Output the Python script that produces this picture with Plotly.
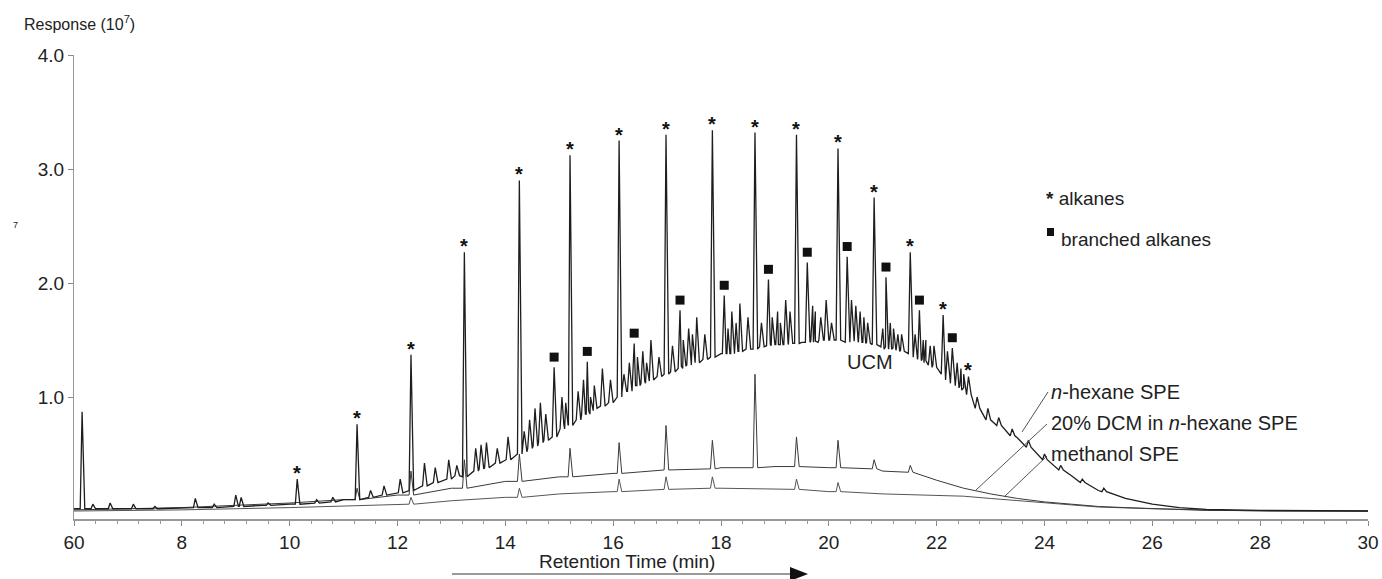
import plotly.graph_objects as go

# ---------------- data ----------------
x_tick_vals = [6, 8, 10, 12, 14, 16, 18, 20, 22, 24, 26, 28, 30]
x_tick_text = ["60", "8", "10", "12", "14", "16", "18", "20", "22", "24", "26", "28", "30"]
y_tick_vals = [1, 2, 3, 4]
y_tick_text = ["1.0", "2.0", "3.0", "4.0"]

# n-hexane SPE: UCM hump (lower envelope)
hex_base_t = [6.0, 6.5, 7.0, 7.5, 8.0, 8.5, 9.0, 9.5, 10.0, 10.5, 11.0, 11.5, 12.0, 12.5, 13.0,
              13.5, 14.0, 14.5, 15.0, 15.5, 16.0, 16.5, 17.0, 17.5, 18.0, 18.5, 19.0, 19.5, 20.0,
              20.5, 21.0, 21.5, 22.0, 22.5, 23.0, 23.5, 24.0, 24.5, 25.0, 25.5, 26.0, 26.5, 27.0,
              27.5, 28.0, 30.0]
hex_base_v = [0.02, 0.02, 0.02, 0.02, 0.03, 0.03, 0.04, 0.05, 0.06, 0.08, 0.1, 0.13, 0.17, 0.23, 0.29,
              0.36, 0.45, 0.58, 0.72, 0.88, 1.0, 1.13, 1.22, 1.32, 1.38, 1.43, 1.46, 1.48, 1.5,
              1.48, 1.42, 1.35, 1.22, 1.05, 0.8, 0.64, 0.46, 0.31, 0.18, 0.11, 0.06, 0.03, 0.015,
              0.01, 0.005, 0.0]

# n-alkane peaks (marked *)
alk_t = [10.14, 11.25, 12.25, 13.24, 14.26, 15.2, 16.11, 16.98, 17.84, 18.63, 19.4, 20.17, 20.84, 21.51, 22.12, 22.59]
alk_top = [0.28, 0.76, 1.37, 2.27, 2.9, 3.12, 3.25, 3.3, 3.34, 3.32, 3.3, 3.18, 2.75, 2.27, 1.72, 1.18]
alk_base = [0.06, 0.1, 0.18, 0.3, 0.5, 0.75, 1.0, 1.2, 1.35, 1.42, 1.47, 1.5, 1.46, 1.38, 1.2, 1.02]

# branched alkane peaks (marked with squares)
br_t = [14.905, 15.52, 16.39, 17.24, 18.06, 18.88, 19.6, 20.34, 21.06, 21.68, 22.29]
br_top = [1.26, 1.31, 1.47, 1.76, 1.89, 2.03, 2.18, 2.23, 2.05, 1.76, 1.43]
br_base = [0.65, 0.85, 1.1, 1.25, 1.38, 1.45, 1.48, 1.48, 1.42, 1.33, 1.12]

# other resolved peaks on the n-hexane trace
minor_t = [6.15, 6.35, 6.67, 7.1, 7.5, 8.25, 8.6, 9.0, 9.1, 9.6, 10.5, 10.8, 11.5, 11.75, 12.05,
           12.5, 12.7, 12.95, 13.45, 13.65, 13.85, 14.05, 14.45, 14.65, 15.05, 15.35, 15.65, 15.8,
           15.95, 16.3, 16.55, 16.7, 16.85, 17.1, 17.4, 17.55, 17.7, 18.2, 18.35, 18.5, 18.75,
           19.05, 19.2, 19.75, 19.95, 20.5, 20.65, 21.2, 21.35, 21.8, 21.95, 22.45, 22.75, 22.95,
           23.15, 23.4, 23.7, 24.0, 24.3, 24.7, 25.1]
minor_top = [0.87, 0.06, 0.07, 0.06, 0.04, 0.11, 0.06, 0.14, 0.12, 0.07, 0.1, 0.12, 0.18, 0.22, 0.28,
             0.42, 0.38, 0.45, 0.55, 0.6, 0.55, 0.65, 0.8, 0.95, 1.0, 1.05, 1.1, 1.25,
             1.15, 1.3, 1.4, 1.5, 1.35, 1.45, 1.6, 1.7, 1.55, 1.75, 1.82, 1.7, 1.65,
             1.75, 1.85, 1.75, 1.85, 1.8, 1.7, 1.6, 1.55, 1.5, 1.45, 1.25, 1.0, 0.9,
             0.82, 0.72, 0.62, 0.5, 0.4, 0.28, 0.2]
minor_base = [0.02, 0.02, 0.02, 0.02, 0.02, 0.03, 0.03, 0.04, 0.04, 0.05, 0.07, 0.08, 0.12, 0.14, 0.16,
              0.22, 0.25, 0.28, 0.35, 0.38, 0.42, 0.45, 0.55, 0.6, 0.72, 0.8, 0.9, 0.92,
              0.95, 1.05, 1.12, 1.15, 1.18, 1.22, 1.28, 1.3, 1.33, 1.38, 1.4, 1.42, 1.44,
              1.46, 1.46, 1.48, 1.5, 1.49, 1.48, 1.42, 1.4, 1.3, 1.26, 1.08, 0.9, 0.8,
              0.75, 0.66, 0.56, 0.45, 0.36, 0.25, 0.17]

# further small peaks inside the UCM band
band_t = [13.1, 13.55, 14.35, 14.55, 14.75, 15.12, 15.45, 15.58, 16.2, 16.45, 16.62, 17.3, 17.47,
          18.13, 18.28, 18.95, 19.1, 19.28, 19.7, 19.85, 20.05, 20.42, 20.58, 20.72, 21.0, 21.14,
          21.28, 21.6, 21.75, 21.88, 22.2, 22.38, 22.5]
band_top = [0.4, 0.58, 0.7, 0.9, 0.85, 0.95, 1.15, 1.0, 1.2, 1.35, 1.3, 1.5, 1.55,
            1.6, 1.65, 1.7, 1.65, 1.75, 1.8, 1.7, 1.65, 1.85, 1.75, 1.65, 1.6, 1.65,
            1.55, 1.55, 1.5, 1.45, 1.4, 1.3, 1.2]
band_base = [0.31, 0.37, 0.52, 0.57, 0.62, 0.76, 0.85, 0.88, 1.05, 1.1, 1.14, 1.27, 1.3,
             1.38, 1.4, 1.46, 1.46, 1.47, 1.49, 1.5, 1.5, 1.49, 1.48, 1.47, 1.44, 1.43,
             1.41, 1.35, 1.32, 1.28, 1.15, 1.1, 1.06]

# 20% DCM in n-hexane SPE
dcm_base_t = [6.0, 7.0, 8.0, 9.0, 10.0, 11.0, 12.0, 13.0, 14.0, 15.0, 16.0, 17.0, 18.0, 19.0, 20.0,
              21.0, 21.5, 22.0, 22.5, 23.0, 23.5, 24.0, 24.5, 25.0, 25.5, 26.0, 26.5, 27.0, 30.0]
dcm_base_v = [0.01, 0.02, 0.03, 0.05, 0.07, 0.1, 0.14, 0.2, 0.26, 0.3, 0.33, 0.36, 0.38, 0.39, 0.38,
              0.35, 0.32, 0.27, 0.2, 0.15, 0.11, 0.08, 0.06, 0.04, 0.03, 0.02, 0.01, 0.005, 0.0]
dcm_peak_t = [11.25, 12.25, 13.24, 14.26, 15.2, 16.11, 16.98, 17.84, 18.63, 19.4, 20.17, 20.84, 21.51]
dcm_peak_top = [0.2, 0.35, 0.45, 0.5, 0.55, 0.6, 0.75, 0.62, 1.2, 0.65, 0.62, 0.45, 0.4]
dcm_peak_base = [0.1, 0.14, 0.2, 0.26, 0.3, 0.33, 0.36, 0.37, 0.38, 0.39, 0.38, 0.37, 0.34]

# methanol SPE
meth_base_t = [6.0, 8.0, 10.0, 12.0, 13.0, 14.0, 15.0, 16.0, 17.0, 18.0, 19.0, 20.0, 21.0, 22.0,
               22.5, 23.0, 23.5, 24.0, 24.5, 25.0, 26.0, 27.0, 27.5, 28.0, 30.0]
meth_base_v = [0.0, 0.01, 0.03, 0.06, 0.09, 0.12, 0.15, 0.17, 0.19, 0.2, 0.19, 0.17, 0.15, 0.14,
               0.13, 0.11, 0.09, 0.07, 0.05, 0.035, 0.02, 0.01, 0.005, 0.0, 0.0]
meth_peak_t = [12.25, 14.26, 16.11, 16.98, 17.84, 19.4, 20.17]
meth_peak_top = [0.12, 0.2, 0.28, 0.3, 0.3, 0.28, 0.25]
meth_peak_base = [0.06, 0.12, 0.17, 0.19, 0.2, 0.19, 0.17]


# ---------------- build traces ----------------
def build(base_t, base_v, peak_t, peak_top, peak_base, wl=0.035, wr=0.05):
    pts = []
    windows = []
    for t, top, b in zip(peak_t, peak_top, peak_base):
        pts += [(t - wl, b), (t, top), (t + wr, b)]
        windows.append((t - wl - 0.02, t + wr + 0.02))
    for t, v in zip(base_t, base_v):
        if not any(a <= t <= c for a, c in windows):
            pts.append((t, v))
    pts.sort(key=lambda p: p[0])
    return [p[0] for p in pts], [p[1] for p in pts]


hx, hy = build(hex_base_t, hex_base_v, alk_t + br_t + minor_t + band_t,
               alk_top + br_top + minor_top + band_top, alk_base + br_base + minor_base + band_base)
dx, dy = build(dcm_base_t, dcm_base_v, dcm_peak_t, dcm_peak_top, dcm_peak_base)
mx, my = build(meth_base_t, meth_base_v, meth_peak_t, meth_peak_top, meth_peak_base)

fig = go.Figure()
fig.add_trace(go.Scatter(x=mx, y=my, mode="lines", line=dict(color="#555555", width=1),
                         name="methanol SPE", hoverinfo="skip"))
fig.add_trace(go.Scatter(x=dx, y=dy, mode="lines", line=dict(color="#3a3a3a", width=1),
                         name="20% DCM in n-hexane SPE", hoverinfo="skip"))
fig.add_trace(go.Scatter(x=hx, y=hy, mode="lines", line=dict(color="#1e1e1e", width=1.3),
                         name="n-hexane SPE", hoverinfo="skip"))

# branched alkane squares
fig.add_trace(go.Scatter(x=br_t, y=[v + 0.09 for v in br_top], mode="markers",
                         marker=dict(symbol="square", size=9, color="#111111"), hoverinfo="skip"))

FONT = "Liberation Sans, Arial, sans-serif"
annotations = []
for t, top in zip(alk_t, alk_top):
    annotations.append(dict(x=t, y=top, xref="x", yref="y", text="<b>*</b>", showarrow=False,
                            yanchor="bottom", yshift=-7, font=dict(size=20, color="#111", family=FONT)))

L, R, T, B = 74, 14, 55, 60
W, H = 1382, 579
PW, PH = W - L - R, H - T - B


def px(xp):
    return (xp - L) / PW


def py(yp):
    return (H - B - yp) / PH


def text(xp, yp, s, size=17, anchor="left", color="#222"):
    annotations.append(dict(x=px(xp), y=py(yp), xref="paper", yref="paper", text=s, showarrow=False,
                            xanchor=anchor, yanchor="middle", font=dict(size=size, color=color, family=FONT)))


text(22, 23, "Response (10<sup>7</sup>)", size=16, anchor="left")
text(11, 225, "7", size=9, anchor="left")
text(627, 561, "Retention Time (min)", size=19, anchor="center")
text(870, 362, "UCM", size=20, anchor="center")
text(1044, 198, "<b>*</b> alkanes", size=19)
text(1059, 239, "branched alkanes", size=19)
text(1049, 392, "<i>n</i>-hexane SPE", size=20)
text(1049, 423, "20% DCM in <i>n</i>-hexane SPE", size=20)
text(1049, 454, "methanol SPE", size=20)

shapes = [
    # legend square
    dict(type="rect", xref="paper", yref="paper", x0=px(1047), x1=px(1054), y0=py(236), y1=py(228),
         fillcolor="#111", line=dict(width=0)),
    # leader lines
    dict(type="line", xref="paper", yref="paper", x0=px(1048), y0=py(392), x1=px(1022), y1=py(432),
         line=dict(color="#555", width=1)),
    dict(type="line", xref="paper", yref="paper", x0=px(1047), y0=py(424), x1=px(976), y1=py(490),
         line=dict(color="#555", width=1)),
    dict(type="line", xref="paper", yref="paper", x0=px(1047), y0=py(456), x1=px(1004), y1=py(497),
         line=dict(color="#555", width=1)),
    # arrow
    dict(type="line", xref="paper", yref="paper", x0=px(452), y0=py(574), x1=px(792), y1=py(574),
         line=dict(color="#999", width=2)),
    dict(type="path", xref="paper", yref="paper",
         path=f"M {px(790)} {py(567)} L {px(808)} {py(574)} L {px(790)} {py(581)} Z",
         fillcolor="#111", line=dict(width=0)),
]

fig.update_layout(
    width=W, height=H, margin=dict(l=L, r=R, t=T, b=B, autoexpand=False),
    paper_bgcolor="white", plot_bgcolor="white", showlegend=False,
    annotations=annotations, shapes=shapes,
    font=dict(family=FONT, size=19, color="#222"),
    xaxis=dict(range=[6, 30], tickvals=x_tick_vals, ticktext=x_tick_text, showgrid=False, zeroline=False,
               automargin=False,
               showline=True, linecolor="#999", linewidth=2, ticks="outside", ticklen=5, tickcolor="#888",
               tickfont=dict(size=19, family=FONT, color="#222"),
               minor=dict(tick0=6, dtick=0.4, ticks="outside", ticklen=3, tickcolor="#999")),
    yaxis=dict(range=[-0.07, 4.0], tickvals=y_tick_vals, ticktext=y_tick_text, showgrid=False, zeroline=False,
               automargin=False,
               showline=True, linecolor="#999", linewidth=1, ticks="outside", ticklen=5, tickcolor="#888",
               tickfont=dict(size=19, family=FONT, color="#222")),
)

fig.write_html("out.html", config={"displayModeBar": False},
               post_script="document.body.style.margin='0';document.body.style.padding='0';"
                           "document.body.style.overflow='hidden';")
